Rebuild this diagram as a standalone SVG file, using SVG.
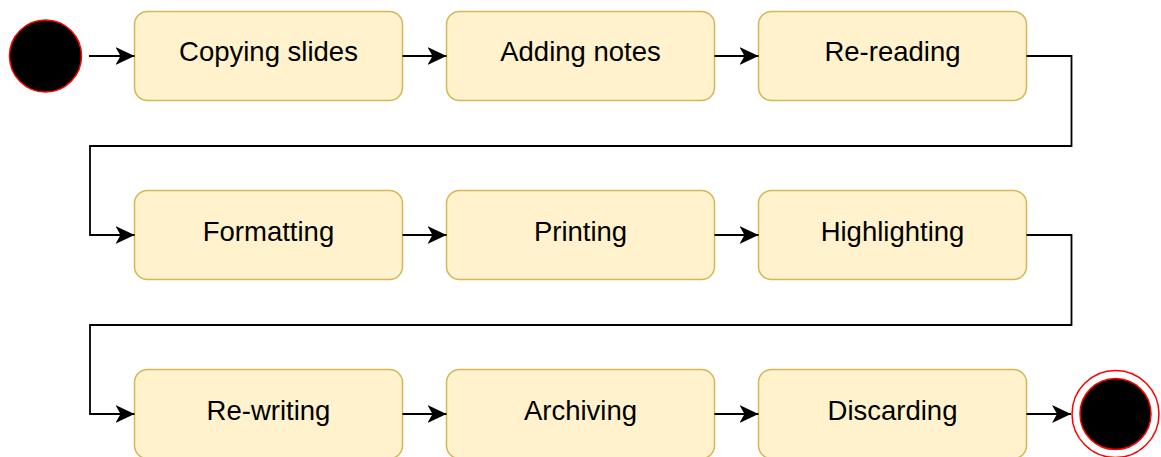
<svg xmlns="http://www.w3.org/2000/svg" width="1161" height="457" viewBox="0 0 1161 457">
<style>
.node rect{fill:#fff2cc;stroke:#d6b656;stroke-width:1.5}
.node text{font-family:"Liberation Sans",Arial,sans-serif;font-size:27.5px;fill:#000;text-anchor:middle}
.edge{fill:none;stroke:#000;stroke-width:1.8;marker-end:url(#arr)}
</style>
<defs>
<marker id="arr" markerUnits="userSpaceOnUse" markerWidth="20" markerHeight="20" viewBox="0 0 20 20" refX="19" refY="10" orient="auto">
<path d="M0,1 L19,10 L0,19 L5,10 Z" fill="#000"/>
</marker>
</defs>
<rect width="1161" height="457" fill="#fff"/>
<g id="start"><circle cx="45.5" cy="56" r="36" fill="#000" stroke="#ff0000" stroke-width="1.5"/></g>
<g id="end">
<circle cx="1115.5" cy="414" r="43.5" fill="#fff" stroke="#ff0000" stroke-width="1.5"/>
<circle cx="1115.5" cy="414" r="35.5" fill="#000" stroke="#ff0000" stroke-width="1.5"/>
</g>
<g id="n1" class="node"><rect x="134.5" y="11.5" width="268" height="89" rx="13"/><text x="268.5" y="61">Copying slides</text></g>
<g id="n2" class="node"><rect x="446.5" y="11.5" width="268" height="89" rx="13"/><text x="580.5" y="61">Adding notes</text></g>
<g id="n3" class="node"><rect x="758.5" y="11.5" width="268" height="89" rx="13"/><text x="892.5" y="61">Re-reading</text></g>
<g id="n4" class="node"><rect x="134.5" y="190.5" width="268" height="89" rx="13"/><text x="268.5" y="240.5">Formatting</text></g>
<g id="n5" class="node"><rect x="446.5" y="190.5" width="268" height="89" rx="13"/><text x="580.5" y="240.5">Printing</text></g>
<g id="n6" class="node"><rect x="758.5" y="190.5" width="268" height="89" rx="13"/><text x="892.5" y="240.5">Highlighting</text></g>
<g id="n7" class="node"><rect x="134.5" y="369.5" width="268" height="89" rx="13"/><text x="268.5" y="419.5">Re-writing</text></g>
<g id="n8" class="node"><rect x="446.5" y="369.5" width="268" height="89" rx="13"/><text x="580.5" y="419.5">Archiving</text></g>
<g id="n9" class="node"><rect x="758.5" y="369.5" width="268" height="89" rx="13"/><text x="892.5" y="419.5">Discarding</text></g>
<g id="connectors">
<path class="edge" d="M89,56 H134.5"/>
<path class="edge" d="M402.5,56 H446.5"/>
<path class="edge" d="M714.5,56 H758.5"/>
<path class="edge" d="M1026.5,56 H1071.5 V146 H90 V235 H134.5"/>
<path class="edge" d="M402.5,235 H446.5"/>
<path class="edge" d="M714.5,235 H758.5"/>
<path class="edge" d="M1026.5,235 H1071.5 V325 H90 V414 H134.5"/>
<path class="edge" d="M402.5,414 H446.5"/>
<path class="edge" d="M714.5,414 H758.5"/>
<path class="edge" d="M1026.5,414 H1071"/>
</g>
</svg>
